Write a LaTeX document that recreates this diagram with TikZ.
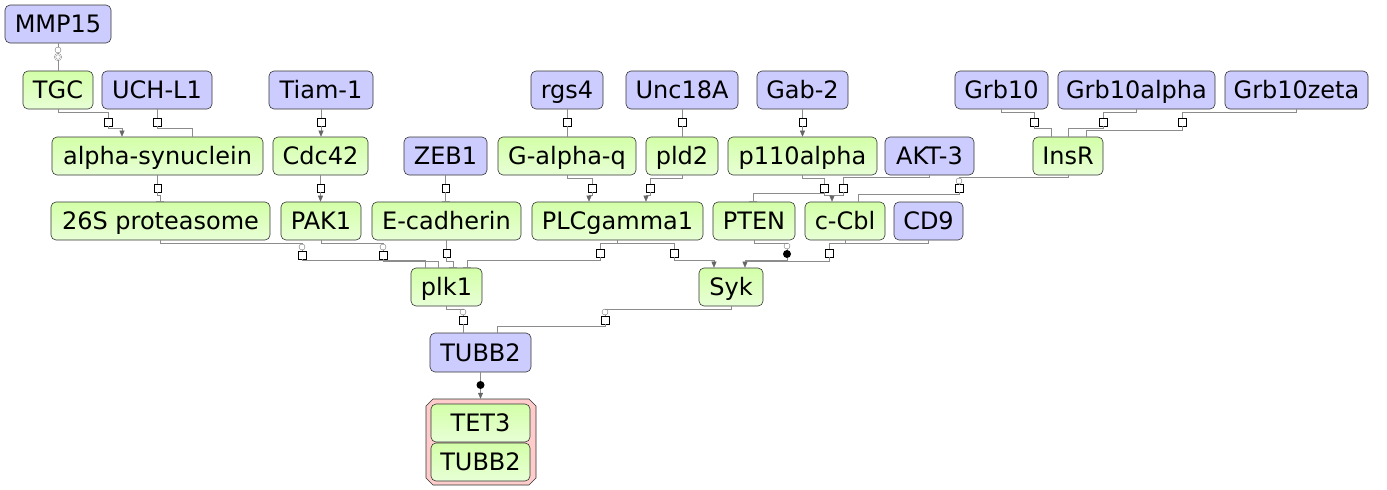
\documentclass[tikz,border=0pt]{standalone}
\usepackage{fontspec}
\setmainfont{DejaVu Sans}
\usetikzlibrary{arrows.meta}
\definecolor{macroblue}{HTML}{CCCCFF}
\definecolor{nucltop}{HTML}{D3FFA8}
\definecolor{nuclbottom}{HTML}{E8FFD6}
\definecolor{complexpink}{HTML}{FFCCCC}
\definecolor{linkgrey}{HTML}{8C8C8C}
\definecolor{tipgrey}{HTML}{666666}
\definecolor{glyphink}{HTML}{333333}

\begin{document}
\begin{tikzpicture}[x=1pt, y=-1pt, every node/.style={font=\fontsize{24}{28}\selectfont},
  glyph/.style={rounded corners=5pt, draw=glyphink, line width=0.6pt, minimum height=38pt, inner sep=0pt, text height=17.4pt, text depth=0pt},
  macro/.style={glyph, fill=macroblue},
  nucl/.style={glyph, top color=nucltop, bottom color=nuclbottom},
  cplx/.style={draw=glyphink, line width=0.6pt, fill=complexpink},
  proc/.style={draw=black, fill=white, line width=0.5pt, minimum size=7.5pt, inner sep=0pt},
  ocirc/.style={circle, draw=black!55, fill=white, line width=0.4pt, minimum size=6pt, inner sep=0pt},
  dcirc/.style={ocirc, double, double distance=0.8pt},
  fcirc/.style={circle, fill=black, minimum size=8pt, inner sep=0pt},
  link/.style={draw=linkgrey, line width=0.5pt},
  stim/.style={link, -{Triangle[length=6pt,width=5pt,color=tipgrey]}},
  inhib/.style={link, -{Bar[width=8pt]}}]

  \useasboundingbox (0,0) rectangle (1387,490);

  %% entity pool nodes
  \node[macro, minimum width=106pt] (mmp15) at (58,24) {MMP15};

  \node[nucl, minimum width=70pt] (tgc) at (58,90) {TGC};
  \node[macro, minimum width=110pt] (uchl1) at (157,90) {UCH-L1};
  \node[macro, minimum width=104pt] (tiam1) at (321,90) {Tiam-1};
  \node[macro, minimum width=72pt] (rgs4) at (567,90) {rgs4};
  \node[macro, minimum width=112pt] (unc18a) at (682,90) {Unc18A};
  \node[macro, minimum width=91pt] (gab2) at (802.5,90) {Gab-2};
  \node[macro, minimum width=93pt] (grb10) at (1001.5,90) {Grb10};
  \node[macro, minimum width=157pt] (grb10a) at (1136.5,90) {Grb10alpha};
  \node[macro, minimum width=143pt] (grb10z) at (1296.5,90) {Grb10zeta};

  \node[nucl, minimum width=211pt] (asyn) at (157.5,156) {alpha-synuclein};
  \node[nucl, minimum width=95pt] (cdc42) at (320.5,156) {Cdc42};
  \node[macro, minimum width=83pt] (zeb1) at (445.5,156) {ZEB1};
  \node[nucl, minimum width=138pt] (galphaq) at (567,156) {G-alpha-q};
  \node[nucl, minimum width=72pt] (pld2) at (682,156) {pld2};
  \node[nucl, minimum width=149pt] (p110) at (802.5,156) {p110alpha};
  \node[macro, minimum width=89pt] (akt3) at (929.5,156) {AKT-3};
  \node[nucl, minimum width=70pt] (insr) at (1068,156) {InsR};

  \node[nucl, minimum width=219pt] (prot) at (160.5,221) {26S proteasome};
  \node[nucl, minimum width=80pt] (pak1) at (321,221) {PAK1};
  \node[nucl, minimum width=149pt] (ecad) at (446.5,221) {E-cadherin};
  \node[nucl, minimum width=171pt] (plcg) at (617.5,221) {PLCgamma1};
  \node[nucl, minimum width=82pt] (pten) at (754,221) {PTEN};
  \node[nucl, minimum width=80pt] (ccbl) at (845,221) {c-Cbl};
  \node[macro, minimum width=69pt] (cd9) at (928.5,221) {CD9};

  \node[nucl, minimum width=71pt] (plk1) at (446.5,287) {plk1};
  \node[nucl, minimum width=64pt] (syk) at (731,287) {Syk};

  \node[macro, minimum width=101pt, minimum height=39pt] (tubb2) at (480.5,352.5) {TUBB2};

  %% complex with cut corners
  \draw[cplx] (433,399) -- (529,399) -- (536,406) -- (536,478) -- (529,485)
    -- (433,485) -- (426,478) -- (426,406) -- cycle;
  \node[minimum width=110pt, minimum height=86pt, inner sep=0pt] (tet3cx) at (481,442) {};
  \node[nucl, minimum width=99pt] (tet3) at (480.5,423) {TET3};
  \node[nucl, minimum width=99pt] (tubb2c) at (480.5,462) {TUBB2};

  %% process nodes
  \node[ocirc] (q0) at (58,50) {};
  \node[dcirc] (p0) at (58,57) {};
  \node[proc] (p1) at (108,122) {};
  \node[proc] (p2) at (157,122) {};
  \node[proc] (p3) at (321,122) {};
  \node[proc] (p4) at (567,122) {};
  \node[proc] (p5) at (682,122) {};
  \node[proc] (p6) at (802.5,122) {};
  \node[proc] (p7) at (1034,122) {};
  \node[proc] (p8) at (1103,122) {};
  \node[proc] (p9) at (1182,122) {};
  \node[proc] (p10) at (157.5,188) {};
  \node[proc] (p11) at (320.5,188) {};
  \node[proc] (p12) at (445.5,188) {};
  \node[proc] (p13) at (592,188) {};
  \node[proc] (p14) at (650,188) {};
  \node[proc] (p15) at (824,188) {};
  \node[proc] (p16) at (843,188) {};
  \node[ocirc] (q17) at (959,181) {};
  \node[proc] (p17) at (959,188) {};
  \node[ocirc] (q18) at (302,247) {};
  \node[proc] (p18) at (302,255) {};
  \node[ocirc] (q19) at (383,247) {};
  \node[proc] (p19) at (383,255) {};
  \node[proc] (p20) at (446.5,253) {};
  \node[proc] (p21) at (600,253) {};
  \node[proc] (p22) at (674,253) {};
  \node[ocirc] (q23) at (787,246) {};
  \node[fcirc] (p23) at (787,254) {};
  \node[proc] (p24) at (829,253) {};
  \node[ocirc] (q25) at (463,312) {};
  \node[proc] (p25) at (463,320) {};
  \node[ocirc] (q26) at (605,312) {};
  \node[proc] (p26) at (605,320) {};
  \node[fcirc] (p27) at (480.5,385) {};

  %% MMP15 -> TGC
  \draw[link] (mmp15.south) -- (q0.north);
  \draw[link] (q0.south) -- (p0.north);
  \draw[link] (p0.south) -- (tgc.north);

  %% second row
  \draw[link] (tgc.south) |- (108,112) -- (p1.north);
  \draw[stim] (p1.south) |- (122,128) -- (122,0 |- asyn.north);
  \draw[link] (uchl1.south) -- (p2.north);
  \draw[link] (p2.south) |- (192,128) -- (192,0 |- asyn.north);
  \draw[link] (tiam1.south) -- (p3.north);
  \draw[stim] (p3.south) -- (p3.south |- cdc42.north);
  \draw[link] (rgs4.south) -- (p4.north);
  \draw[link] (p4.south) -- (galphaq.north);
  \draw[link] (unc18a.south) -- (p5.north);
  \draw[link] (p5.south) -- (pld2.north);
  \draw[link] (gab2.south) -- (p6.north);
  \draw[stim] (p6.south) -- (p110.north);
  \draw[link] (grb10.south) |- (1034,112) -- (p7.north);
  \draw[link] (p7.south) |- (1051,128) -- (1051,0 |- insr.north);
  \draw[link] (grb10a.south) |- (1103,112) -- (p8.north);
  \draw[link] (p8.south) |- (1068,128) -- (insr.north);
  \draw[link] (grb10z.south) |- (1182,112) -- (p9.north);
  \draw[link] (p9.south) |- (1086,130) -- (1086,0 |- insr.north);

  %% third row
  \draw[link] (asyn.south) -- (p10.north);
  \draw[inhib] (p10.south) |- (160,195) -- (160,0 |- prot.north);
  \draw[link] (cdc42.south) -- (p11.north);
  \draw[stim] (p11.south) -- (p11.south |- pak1.north);
  \draw[link] (zeb1.south) -- (p12.north);
  \draw[inhib] (p12.south) -- (p12.south |- ecad.north);
  \draw[link] (galphaq.south) |- (592,178) -- (p13.north);
  \draw[stim] (p13.south) |- (589,195) -- (589,0 |- plcg.north);
  \draw[link] (pld2.south) |- (650,178) -- (p14.north);
  \draw[stim] (p14.south) |- (646,195) -- (646,0 |- plcg.north);
  \draw[link] (p110.south) |- (824,178) -- (p15.north);
  \draw[stim] (p15.south) |- (832,195) -- (832,0 |- ccbl.north);
  \draw[inhib] (p15.south) |- (753,193) -- (753,0 |- pten.north);
  \draw[link] (akt3.south) |- (843,177) -- (p16.north);
  \draw[link] (p16.south) |- (832,195);
  \draw[link] (insr.south) |- (959,177) -- (q17.north);
  \draw[link] (q17.south) -- (p17.north);
  \draw[link] (p17.south) |- (858,194) -- (858,0 |- ccbl.north);

  %% fourth row
  \draw[link] (prot.south) |- (302,243) -- (q18.north);
  \draw[link] (q18.south) -- (p18.north);
  \draw[link] (p18.south) |- (425,260) -- (425,0 |- plk1.north);
  \draw[link] (pak1.south) |- (383,243) -- (q19.north);
  \draw[link] (q19.south) -- (p19.north);
  \draw[link] (p19.south) |- (438,261) -- (438,0 |- plk1.north);
  \draw[link] (ecad.south) -- (p20.north);
  \draw[inhib] (p20.south) |- (453,261) -- (453,0 |- plk1.north);
  \draw[link] (plcg.south) |- (600,243) -- (p21.north);
  \draw[inhib] (p21.south) |- (467,260) -- (467,0 |- plk1.north);
  \draw[link] (plcg.south) |- (674,243) -- (p22.north);
  \draw[stim] (p22.south) |- (714,260) -- (714,0 |- syk.north);
  \draw[link] (pten.south) |- (787,243) -- (q23.north);
  \draw[link] (q23.south) -- (p23.north);
  \draw[stim] (p23.south) |- (745,260) -- (745,0 |- syk.north);
  \draw[link] (ccbl.south) |- (829,243) -- (p24.north);
  \draw[link] (cd9.south) |- (845,243);
  \draw[link] (p24.south) |- (745,261);

  %% TUBB2
  \draw[link] (plk1.south) |- (463,309) -- (q25.north);
  \draw[link] (q25.south) -- (p25.north);
  \draw[link] (p25.south) -- (p25.south |- tubb2.north);
  \draw[link] (syk.south) |- (605,309) -- (q26.north);
  \draw[link] (q26.south) -- (p26.north);
  \draw[link] (p26.south) |- (497,326) -- (497,0 |- tubb2.north);
  \draw[link] (tubb2.south) -- (p27.north);
  \draw[stim] (p27.south) -- (p27.south |- tet3cx.north);

\end{tikzpicture}
\end{document}
